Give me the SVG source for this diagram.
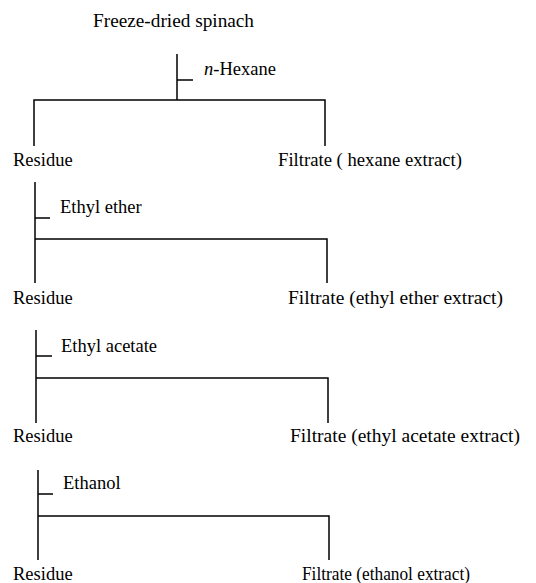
<svg xmlns="http://www.w3.org/2000/svg" width="536" height="583" viewBox="0 0 536 583">
<style>
.t{font-family:'Liberation Serif','DejaVu Serif','Times New Roman',Times,serif;font-size:18.5px;fill:#000}
.ln{stroke:#000;stroke-width:1.5;fill:none}
</style>
<rect width="536" height="583" fill="#fff"/>
<g id="connectors">
<path class="ln" d="M177,54V100M177,80H193M34,146V100H325V146"/>
<path class="ln" d="M35,182V283M35,218H50M35,239H327V283"/>
<path class="ln" d="M36,330V423M36,356H52M36,378H328V423"/>
<path class="ln" d="M38,470V560M38,494H53M38,516H329V560"/>
</g>
<g font-family="Liberation Serif, DejaVu Serif, serif">
<g id="start"><text class="t" x="93" y="27" textLength="161" lengthAdjust="spacingAndGlyphs">Freeze-dried spinach</text></g>
<g id="solvent1"><text class="t" x="204" y="75"><tspan font-style="italic">n</tspan>-Hexane</text></g>
<g id="residue1"><text class="t" x="13" y="166">Residue</text></g>
<g id="filtrate1"><text class="t" x="278" y="166" textLength="184" lengthAdjust="spacingAndGlyphs">Filtrate ( hexane extract)</text></g>
<g id="solvent2"><text class="t" x="60" y="213">Ethyl ether</text></g>
<g id="residue2"><text class="t" x="13" y="304">Residue</text></g>
<g id="filtrate2"><text class="t" x="288" y="304" textLength="215" lengthAdjust="spacingAndGlyphs">Filtrate (ethyl ether extract)</text></g>
<g id="solvent3"><text class="t" x="61" y="352">Ethyl acetate</text></g>
<g id="residue3"><text class="t" x="13" y="442">Residue</text></g>
<g id="filtrate3"><text class="t" x="290" y="442" textLength="230" lengthAdjust="spacingAndGlyphs">Filtrate (ethyl acetate extract)</text></g>
<g id="solvent4"><text class="t" x="63" y="489">Ethanol</text></g>
<g id="residue4"><text class="t" x="13" y="580">Residue</text></g>
<g id="filtrate4"><text class="t" x="302" y="580" textLength="168" lengthAdjust="spacingAndGlyphs">Filtrate (ethanol extract)</text></g>
</g>
</svg>
